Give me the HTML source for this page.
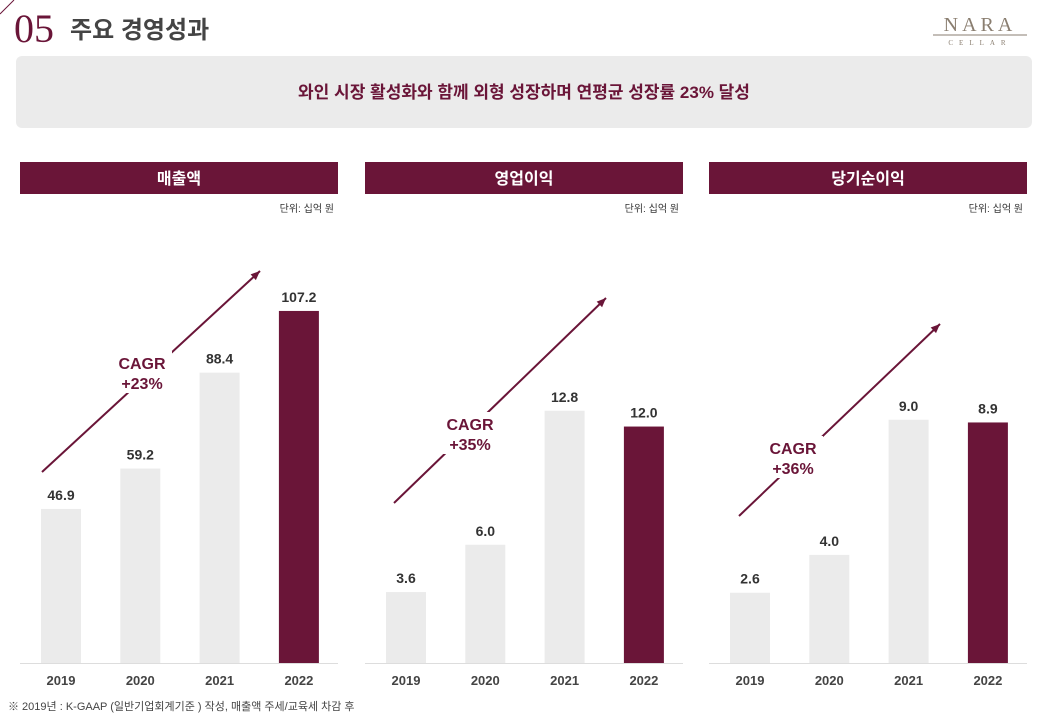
<!DOCTYPE html>
<html><head><meta charset="utf-8">
<style>
body{margin:0;width:1038px;height:716px;background:#fff;overflow:hidden;font-family:"Liberation Sans","Noto Sans CJK KR",sans-serif;position:relative}
.abs{position:absolute}
</style></head><body>
<svg class="abs" style="left:0;top:0" width="1038" height="716">
<line x1="0" y1="14" x2="14" y2="0" stroke="#6a1538" stroke-width="1"/>
<text x="14" y="42" font-family="Liberation Serif,serif" font-size="40" fill="#6a1538">05</text>
<text x="70" y="38" font-family="Liberation Sans,Noto Sans CJK KR,sans-serif" font-size="24" font-weight="bold" fill="#444">주요 경영성과</text>
<g>
<text x="980" y="31" text-anchor="middle" font-family="Liberation Serif,serif" font-size="20" fill="#8a7e70" letter-spacing="4">NARA</text>
<line x1="933" y1="35" x2="1027" y2="35" stroke="#8a7e70" stroke-width="1"/>
<text x="980" y="45" text-anchor="middle" font-family="Liberation Serif,serif" font-size="7" fill="#8a7e70" letter-spacing="6">CELLAR</text>
</g>
<rect x="16" y="56" width="1016" height="72" rx="6" fill="#ebebeb"/>
<text x="524" y="98" text-anchor="middle" font-family="Liberation Sans,Noto Sans CJK KR,sans-serif" font-size="17" font-weight="bold" fill="#6a1538">와인 시장 활성화와 함께 외형 성장하며 연평균 성장률 23% 달성</text>
<text x="8" y="710" font-family="Liberation Sans,Noto Sans CJK KR,sans-serif" font-size="11" fill="#444">※ 2019년 : K-GAAP (일반기업회계기준 ) 작성, 매출액 주세/교육세 차감 후</text>
<g id="charts"></g>
</svg>
<script>
const years=["2019","2020","2021","2022"];
const titles=["매출액","영업이익","당기순이익"];
const salesValues=[46.9,59.2,88.4,107.2];
const opValues=[3.6,6.0,12.8,12.0];
const netValues=[2.6,4.0,9.0,8.9];
const cagrLabels=["+23%","+35%","+36%"];
const series=[salesValues,opValues,netValues];
const domainMax=[121.8,20.3,14.8];
const panelX=[20,365,709];
const arrows=[[42,472,260,271],[394,503,606,298],[739,516,940,324]];
const cagrPos=[[142,369],[470,430],[793,454]];
const NS="http://www.w3.org/2000/svg";
const g=document.getElementById('charts');
function mk(tag,attrs,parent){const e=document.createElementNS(NS,tag);for(const k in attrs)e.setAttribute(k,attrs[k]);(parent||g).appendChild(e);return e;}
const baseY=663,plotH=400,W=318;
series.forEach((vals,p)=>{
 const x0=panelX[p];
 const grp=mk('g',{});
 
 
 const hdr=mk('rect',{x:x0,y:162,width:W,height:32,fill:'#6a1538'},grp);
 
 
 const ht=mk('text',{x:x0+W/2,y:184,'text-anchor':'middle','font-size':16,'font-weight':'bold',fill:'#fff'},grp);ht.textContent=titles[p];
 
 
 const u=mk('text',{x:x0+W-4,y:212,'text-anchor':'end','font-size':10,fill:'#333'},grp);u.textContent='단위: 십억 원';
 
 
 const ax=mk('line',{x1:x0,y1:baseY+0.5,x2:x0+W,y2:baseY+0.5,stroke:'#ddd','stroke-width':1},grp);
 
 
 const yS=v=>baseY-v/domainMax[p]*plotH;
 vals.forEach((v,i)=>{
  const cx=x0+41+i*79.3;
  const top=yS(v);
  const b=mk('rect',{x:cx-20,y:top,width:40,height:baseY-top,fill:i===3?'#6a1538':'#ebebeb'},grp);
  
  
  const t=mk('text',{x:cx,y:top-9,'text-anchor':'middle','font-size':14,'font-weight':'bold',fill:'#333'},grp);t.textContent=v.toFixed(1);
  
  
  const yl=mk('text',{x:cx,y:685,'text-anchor':'middle','font-size':13,'font-weight':'bold',fill:'#444'},grp);yl.textContent=years[i];
  
  
 });
 const a=arrows[p];
 const ln=mk('line',{x1:a[0],y1:a[1],x2:a[2],y2:a[3],stroke:'#6a1538','stroke-width':2},grp);
 
 
 const ang=Math.atan2(a[3]-a[1],a[2]-a[0]);
 const hx=a[2],hy=a[3],L=10;
 const hd=mk('polygon',{points:`${hx},${hy} ${hx-L*Math.cos(ang-0.4)},${hy-L*Math.sin(ang-0.4)} ${hx-L*Math.cos(ang+0.4)},${hy-L*Math.sin(ang+0.4)}`,fill:'#6a1538'},grp);
 
 
 const c=cagrPos[p];
 const bg=mk('rect',{x:c[0]-30,y:c[1]-18,width:60,height:42,fill:'#fff'},grp);
 
 
 const t1=mk('text',{x:c[0],y:c[1],'text-anchor':'middle','font-size':16,'font-weight':'bold',fill:'#6a1538'},grp);t1.textContent='CAGR';
 
 
 const t2=mk('text',{x:c[0],y:c[1]+20,'text-anchor':'middle','font-size':16,'font-weight':'bold',fill:'#6a1538'},grp);t2.textContent=cagrLabels[p];
 
 
});
</script>
</body></html>
